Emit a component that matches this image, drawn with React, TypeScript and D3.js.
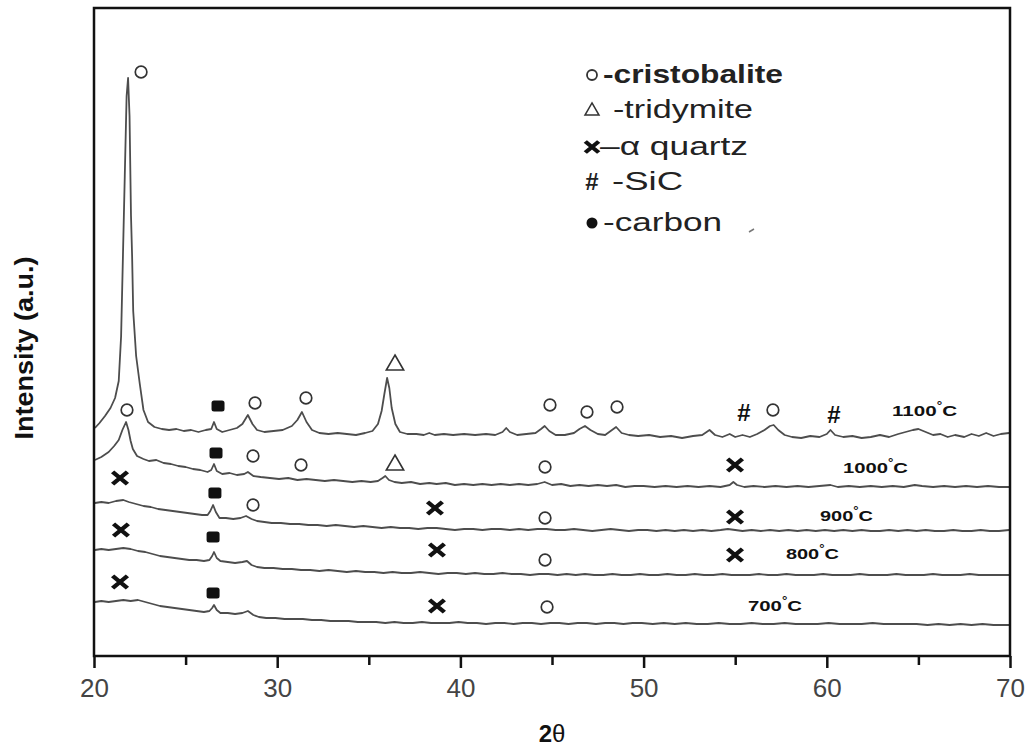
import React, { useEffect, useRef } from 'react';
import * as d3 from 'd3';

type Pt = [number, number];

// 2θ ticks
const xTicks = [20, 30, 40, 50, 60, 70];
const xMinorTicks = [25, 35, 45, 55, 65];

// sample temperatures (bottom to top)
const temps = ['700', '800', '900', '1000', '1100'];

// [2θ, intensity a.u.] (traces already stacked)
const t1100: Pt[] = [[20.05,228],[20.3,233],[20.6,240],[20.9,248],[21.15,258],[21.35,275],[21.48,320],[21.58,400],[21.68,480],[21.78,560],[21.86,578],[21.94,540],[22.02,440],[22.08,400],[22.14,345],[22.3,300],[22.5,272],[22.7,246],[22.95,234],[23.3,229],[23.7,227],[24.1,226],[24.5,227],[24.9,225],[25.3,226],[25.7,224],[26.1,226],[26.4,227],[26.55,234],[26.7,227],[27.0,224],[27.4,226],[27.8,228],[28.1,232],[28.4,241],[28.65,232],[28.9,226],[29.3,224],[29.8,225],[30.3,226],[30.8,230],[31.1,236],[31.35,244],[31.6,234],[31.9,226],[32.3,223],[32.8,222],[33.3,223],[33.8,222],[34.3,221],[34.8,223],[35.2,225],[35.5,232],[35.7,245],[35.85,262],[36.0,278],[36.12,268],[36.25,248],[36.45,232],[36.7,224],[37.1,222],[37.6,222],[38.0,221],[38.3,223],[38.6,221],[39.1,222],[39.6,221],[40.2,222],[40.8,221],[41.4,222],[41.9,221],[42.3,224],[42.5,228],[42.7,224],[43.1,221],[43.6,222],[44.1,223],[44.4,227],[44.6,230],[44.85,225],[45.2,221],[45.7,221],[46.2,223],[46.5,227],[46.8,230],[47.1,226],[47.5,222],[47.9,221],[48.2,225],[48.5,229],[48.8,223],[49.2,221],[49.7,220],[50.3,221],[50.9,219],[51.5,220],[52.1,218],[52.7,220],[53.2,221],[53.6,226],[53.9,221],[54.3,219],[54.7,222],[55.0,219],[55.4,221],[55.8,219],[56.2,222],[56.6,226],[56.9,230],[57.1,231],[57.35,226],[57.7,221],[58.1,219],[58.6,218],[59.1,220],[59.6,219],[60.0,222],[60.2,226],[60.45,221],[60.9,219],[61.4,220],[61.9,218],[62.4,219],[62.9,221],[63.4,219],[63.9,222],[64.3,224],[64.7,226],[65.0,227],[65.4,224],[65.8,221],[66.2,222],[66.6,219],[67.0,221],[67.5,219],[67.9,222],[68.3,220],[68.7,223],[69.1,220],[69.5,222],[69.95,223]];

const t1000: Pt[] = [[20.05,196],[20.4,199],[20.8,204],[21.1,210],[21.35,216],[21.55,226],[21.75,234],[21.88,226],[22.0,215],[22.12,207],[22.35,200],[22.7,197],[23.0,195],[23.4,196],[23.8,193],[24.2,192],[24.6,190],[25.0,189],[25.4,187],[25.8,186],[26.2,184],[26.4,186],[26.55,192],[26.7,185],[27.0,182],[27.4,183],[27.8,181],[28.2,182],[28.4,184],[28.7,180],[29.1,179],[29.6,178],[30.1,177],[30.6,178],[31.1,176],[31.6,177],[32.1,176],[32.6,175],[33.1,176],[33.6,175],[34.1,174],[34.6,175],[35.1,174],[35.5,175],[35.75,178],[35.9,180],[36.1,176],[36.4,174],[36.8,173],[37.3,174],[37.8,172],[38.3,173],[38.7,172],[39.2,173],[39.7,171],[40.2,172],[40.7,171],[41.2,172],[41.7,171],[42.2,172],[42.7,171],[43.2,172],[43.7,171],[44.2,172],[44.6,174],[45.0,171],[45.5,172],[46.0,170],[46.5,171],[47.0,170],[47.5,171],[48.0,170],[48.5,171],[49.0,169],[49.5,170],[50.0,170],[50.6,169],[51.2,170],[51.8,169],[52.4,170],[53.0,169],[53.6,170],[54.2,169],[54.7,171],[54.9,174],[55.1,171],[55.5,169],[56.0,170],[56.6,169],[57.2,170],[57.8,169],[58.4,170],[59.0,169],[59.6,170],[60.2,171],[60.6,169],[61.2,170],[61.8,169],[62.4,170],[63.0,169],[63.6,170],[64.2,169],[64.8,171],[65.2,170],[65.8,169],[66.4,170],[67.0,169],[67.6,170],[68.2,169],[68.8,170],[69.4,169],[69.95,169]];

const t900: Pt[] = [[20.05,153],[20.4,154],[20.8,153],[21.2,155],[21.6,156],[21.9,154],[22.3,152],[22.7,150],[23.1,149],[23.5,147],[23.9,146],[24.3,145],[24.7,144],[25.1,143],[25.5,142],[25.9,141],[26.2,141],[26.35,145],[26.5,151],[26.65,144],[26.85,138],[27.2,138],[27.6,137],[28.0,138],[28.3,140],[28.6,137],[28.9,135],[29.3,134],[29.7,133],[30.2,133],[30.7,132],[31.2,132],[31.7,131],[32.2,131],[32.7,130],[33.2,131],[33.7,130],[34.2,129],[34.7,130],[35.2,129],[35.7,128],[36.2,129],[36.7,128],[37.2,128],[37.7,127],[38.2,128],[38.7,128],[39.2,127],[39.7,126],[40.2,127],[40.7,127],[41.2,126],[41.7,127],[42.2,127],[42.7,126],[43.2,127],[43.7,126],[44.2,127],[44.7,127],[45.2,126],[45.7,126],[46.2,127],[46.7,126],[47.2,125],[47.7,126],[48.2,127],[48.7,126],[49.2,125],[49.7,126],[50.2,126],[50.7,125],[51.2,126],[51.7,125],[52.2,126],[52.7,125],[53.2,126],[53.7,125],[54.2,126],[54.6,127],[55.0,126],[55.4,125],[55.9,126],[56.4,125],[56.9,126],[57.4,125],[57.9,126],[58.4,125],[58.9,126],[59.4,125],[59.9,126],[60.4,125],[60.9,126],[61.4,125],[61.9,126],[62.4,125],[62.9,125],[63.4,126],[63.9,125],[64.4,126],[64.9,125],[65.4,126],[65.9,125],[66.4,125],[66.9,126],[67.4,125],[67.9,125],[68.4,126],[68.9,125],[69.4,125],[69.95,126]];

const t800: Pt[] = [[20.05,106],[20.4,107],[20.8,106],[21.2,107],[21.6,108],[22.0,107],[22.4,105],[22.8,104],[23.2,102],[23.6,100],[24.0,99],[24.4,98],[24.8,97],[25.2,96],[25.6,96],[26.0,95],[26.3,96],[26.45,100],[26.55,104],[26.7,98],[26.9,95],[27.3,94],[27.7,93],[28.1,94],[28.35,95],[28.6,91],[28.9,89],[29.3,88],[29.8,88],[30.3,87],[30.8,87],[31.3,86],[31.8,86],[32.3,85],[32.8,86],[33.3,85],[33.8,84],[34.3,85],[34.8,84],[35.3,84],[35.8,83],[36.3,84],[36.8,83],[37.3,83],[37.8,84],[38.3,83],[38.8,82],[39.3,83],[39.8,83],[40.3,82],[40.8,83],[41.3,82],[41.8,82],[42.3,83],[42.8,82],[43.3,82],[43.8,81],[44.3,82],[44.8,82],[45.3,81],[45.8,82],[46.3,81],[46.8,82],[47.3,81],[47.8,81],[48.3,82],[48.8,81],[49.3,81],[49.8,82],[50.3,81],[50.8,81],[51.3,82],[51.8,81],[52.3,81],[52.8,82],[53.3,81],[53.8,81],[54.3,82],[54.8,81],[55.3,81],[55.8,81],[56.3,82],[56.8,81],[57.3,81],[57.8,82],[58.3,81],[58.8,81],[59.3,81],[59.8,82],[60.3,81],[60.8,81],[61.3,81],[61.8,82],[62.3,81],[62.8,81],[63.3,81],[63.8,82],[64.3,81],[64.8,81],[65.3,81],[65.8,82],[66.3,81],[66.8,81],[67.3,81],[67.8,82],[68.3,81],[68.8,81],[69.3,81],[69.95,81]];

const t700: Pt[] = [[20.05,54],[20.4,55],[20.8,54],[21.2,55],[21.6,56],[22.0,55],[22.4,56],[22.8,54],[23.2,52],[23.6,50],[24.0,49],[24.4,48],[24.8,47],[25.2,46],[25.6,45],[26.0,44],[26.3,45],[26.45,48],[26.55,51],[26.7,46],[26.9,43],[27.3,43],[27.7,42],[28.1,43],[28.4,45],[28.7,41],[29.0,39],[29.4,38],[29.9,38],[30.4,37],[30.9,37],[31.4,37],[31.9,36],[32.4,36],[32.9,35],[33.4,35],[33.9,35],[34.4,34],[34.9,34],[35.4,34],[35.9,33],[36.4,34],[36.9,33],[37.4,33],[37.9,34],[38.4,33],[38.9,33],[39.4,33],[39.9,34],[40.4,33],[40.9,33],[41.4,32],[41.9,33],[42.4,33],[42.9,32],[43.4,33],[43.9,33],[44.4,32],[44.9,33],[45.4,33],[45.9,32],[46.4,33],[46.9,33],[47.4,32],[47.9,33],[48.4,33],[48.9,32],[49.4,33],[49.9,33],[50.5,32],[51.1,33],[51.7,32],[52.3,33],[52.9,32],[53.5,32],[54.1,33],[54.7,32],[55.3,32],[55.9,33],[56.5,32],[57.1,32],[57.7,33],[58.3,32],[58.9,32],[59.5,32],[60.1,33],[60.7,32],[61.3,32],[61.9,32],[62.5,33],[63.1,32],[63.7,32],[64.3,32],[64.9,32],[65.5,31],[66.1,32],[66.7,31],[67.3,32],[67.9,31],[68.5,32],[69.1,31],[69.95,31]];

const traces: Pt[][] = [t700, t800, t900, t1000, t1100];

// phase markers [2θ, a.u.]
const cristobalite: Pt[] = [[22.57,584],[21.8,246],[28.79,253],[31.57,258],[44.89,251],[46.91,244],[48.55,249],[57.06,246],[28.68,200],[31.3,191],[44.62,189],[28.68,151],[44.62,138],[44.62,96],[44.73,49]];
const tridymite: Pt[] = [[36.43,292],[36.43,192]];
const quartz: Pt[] = [[21.42,178],[54.99,191],[38.61,148],[54.99,139],[21.47,126],[38.72,106],[54.99,101],[21.42,74],[38.72,50]];
const sic: Pt[] = [[55.48,243],[60.39,241]];
const carbon: Pt[] = [[26.77,250],[26.66,203],[26.6,163],[26.5,119],[26.5,63]];

const legendLabels = ['-cristobalite', '-tridymite', '\u2013\u03b1 quartz', '-SiC', '-carbon'];

// where each temperature label sits: [2θ, a.u.] of its baseline start
const tempLabelPos: Pt[] = [[55.7,45],[57.77,97],[59.63,135],[60.88,183],[63.56,240]];
const tempLabelWidth = [54, 53, 53, 65, 65];

const App = () => {
  const ref = useRef<SVGSVGElement>(null);

  useEffect(() => {
    draw();
  }, []);

  const draw = () => {
    const svg = d3.select(ref.current);
    svg.selectAll('*').remove();

    const left = 94, right = 1010, top = 8, bottom = 656;
    const font = 'Liberation Sans, Arial, sans-serif';

    const xScale = d3.scaleLinear().domain([20, 70]).range([left, right]);
    const yScale = d3.scaleLinear().domain([0, 650]).range([bottom, 6]);

    svg.append('rect').attr('width', 1030).attr('height', 749).attr('fill', '#fff');

    // traces
    const line = d3
      .line<Pt>()
      .x(d => xScale(d[0]))
      .y(d => yScale(d[1]));

    svg
      .append('g')
      .selectAll('path')
      .data(traces)
      .join('path')
      .attr('fill', 'none')
      .attr('stroke', '#4d4d4d')
      .attr('stroke-width', 1.8)
      .attr('stroke-linejoin', 'round')
      .attr('d', d => line(d));

    // minor ticks
    svg
      .append('g')
      .attr('transform', `translate(0,${bottom})`)
      .call(d3.axisBottom(xScale).tickValues(xMinorTicks).tickSize(9).tickSizeOuter(0).tickFormat(() => ''))
      .call(g => g.select('.domain').remove())
      .call(g => g.selectAll('line').attr('stroke', '#111').attr('stroke-width', 2.5));

    // major ticks + labels
    svg
      .append('g')
      .attr('transform', `translate(0,${bottom})`)
      .call(d3.axisBottom(xScale).tickValues(xTicks).tickSize(12).tickSizeOuter(0).tickFormat(d3.format('d')))
      .call(g => g.select('.domain').remove())
      .call(g => g.selectAll('line').attr('stroke', '#111').attr('stroke-width', 2.5))
      .call(g =>
        g
          .selectAll('text')
          .attr('y', 41)
          .attr('dy', null)
          .attr('fill', '#444')
          .attr('font-size', 26)
          .attr('font-family', font)
      );

    // frame
    svg
      .append('rect')
      .attr('x', left)
      .attr('y', top)
      .attr('width', right - left)
      .attr('height', bottom - top)
      .attr('fill', 'none')
      .attr('stroke', '#111')
      .attr('stroke-width', 2.5);

    // markers
    const mk = svg.append('g');
    mk.selectAll('.cri')
      .data(cristobalite)
      .join('circle')
      .attr('cx', d => xScale(d[0]))
      .attr('cy', d => yScale(d[1]))
      .attr('r', 5.8)
      .attr('fill', 'none')
      .attr('stroke', '#333')
      .attr('stroke-width', 1.7);

    mk.selectAll('.tri')
      .data(tridymite)
      .join('path')
      .attr('transform', d => `translate(${xScale(d[0])},${yScale(d[1]) + 1})`)
      .attr('d', d3.symbol().type(d3.symbolTriangle).size(130)())
      .attr('fill', 'none')
      .attr('stroke', '#333')
      .attr('stroke-width', 1.6);

    const xSym = (d3 as any).symbolX || (d3 as any).symbolTimes;
    mk.selectAll('.qtz')
      .data(quartz)
      .join('path')
      .attr('transform', d => `translate(${xScale(d[0])},${yScale(d[1])}) scale(1.15,0.95)`)
      .attr('d', d3.symbol().type(xSym).size(110)())
      .attr('fill', 'none')
      .attr('stroke', '#111')
      .attr('stroke-width', 4);

    mk.selectAll('.sic')
      .data(sic)
      .join('text')
      .attr('x', d => xScale(d[0]))
      .attr('y', d => yScale(d[1]) + 8)
      .attr('text-anchor', 'middle')
      .attr('font-family', font)
      .attr('font-weight', 'bold')
      .attr('font-size', 24)
      .attr('fill', '#111')
      .text('#');

    mk.selectAll('.car')
      .data(carbon)
      .join('rect')
      .attr('x', d => xScale(d[0]) - 6.5)
      .attr('y', d => yScale(d[1]) - 5.5)
      .attr('width', 13)
      .attr('height', 11)
      .attr('rx', 2.5)
      .attr('fill', '#111');

    // temperature labels
    const tl = svg
      .append('g')
      .selectAll('text')
      .data(temps)
      .join('text')
      .attr('x', (d, i) => xScale(tempLabelPos[i][0]))
      .attr('y', (d, i) => yScale(tempLabelPos[i][1]))
      .attr('font-family', font)
      .attr('font-weight', 'bold')
      .attr('font-size', 15)
      .attr('fill', '#111')
      .attr('textLength', (d, i) => tempLabelWidth[i])
      .attr('lengthAdjust', 'spacingAndGlyphs');
    tl.append('tspan').text(d => d);
    tl.append('tspan').attr('dy', -7).attr('font-size', 10).text('\u00b0');
    tl.append('tspan').attr('dy', 7).text('C');

    // legend
    const lg = svg.append('g');
    const lx = 592;
    const rowY = [75, 110, 147, 182, 223];
    lg.append('circle').attr('cx', lx).attr('cy', rowY[0]).attr('r', 5).attr('fill', 'none').attr('stroke', '#333').attr('stroke-width', 1.8);
    lg.append('path')
      .attr('transform', `translate(${lx},${rowY[1] + 1})`)
      .attr('d', d3.symbol().type(d3.symbolTriangle).size(85)())
      .attr('fill', 'none')
      .attr('stroke', '#333')
      .attr('stroke-width', 1.5);
    lg.append('path')
      .attr('transform', `translate(${lx},${rowY[2]}) scale(1.15,0.95)`)
      .attr('d', d3.symbol().type(xSym).size(90)())
      .attr('fill', 'none')
      .attr('stroke', '#111')
      .attr('stroke-width', 4);
    lg.append('text')
      .attr('x', lx)
      .attr('y', rowY[3] + 8)
      .attr('text-anchor', 'middle')
      .attr('font-family', font)
      .attr('font-weight', 'bold')
      .attr('font-size', 24)
      .attr('fill', '#222')
      .text('#');
    lg.append('circle').attr('cx', lx).attr('cy', rowY[4]).attr('r', 5.5).attr('fill', '#111');

    const textX = [603, 613, 600, 612, 603];
    const textW = [180, 140, 148, 71, 119];
    lg.selectAll('.lt')
      .data(legendLabels)
      .join('text')
      .attr('x', (d, i) => textX[i])
      .attr('y', (d, i) => rowY[i] + 8)
      .attr('font-family', font)
      .attr('font-size', 25)
      .attr('font-weight', (d, i) => (i === 0 ? 'bold' : 'normal'))
      .attr('fill', '#222')
      .attr('textLength', (d, i) => textW[i])
      .attr('lengthAdjust', 'spacingAndGlyphs')
      .text(d => d);
    lg.append('path').attr('d', 'M749,232 L754,229').attr('stroke', '#777').attr('stroke-width', 1.5);

    // axis titles
    const xt = svg
      .append('text')
      .attr('x', (left + right) / 2)
      .attr('y', 742)
      .attr('text-anchor', 'middle')
      .attr('font-family', font)
      .attr('font-size', 24)
      .attr('fill', '#111');
    xt.append('tspan').attr('font-weight', 'bold').text('2');
    xt.append('tspan').text('\u03b8');

    svg
      .append('text')
      .attr('transform', 'translate(33,348) rotate(-90)')
      .attr('text-anchor', 'middle')
      .attr('font-family', font)
      .attr('font-size', 26)
      .attr('font-weight', 'bold')
      .attr('fill', '#111')
      .attr('textLength', 183)
      .attr('lengthAdjust', 'spacingAndGlyphs')
      .text('Intensity (a.u.)');
  };

  return (
    <svg
      ref={ref}
      width={1030}
      height={749}
      style={{ position: 'absolute', left: 0, top: 0, display: 'block' }}
    />
  );
};

export default App;
